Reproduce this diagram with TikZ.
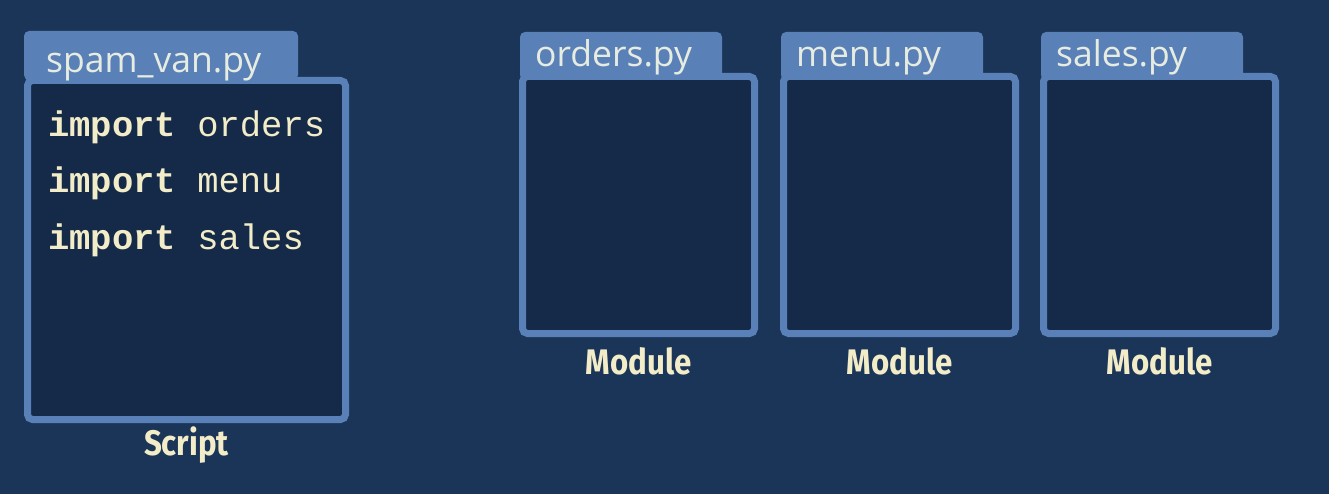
\documentclass[tikz,border=0pt]{standalone}
\usepackage{fontspec}
\newfontfamily\tabfont{Open Sans}
\newfontfamily\codefont{Liberation Mono}
\newfontfamily\capfont[FakeStretch=0.88]{Fira Sans}
\usetikzlibrary{positioning}
\definecolor{bgblue}{HTML}{1B3558}
\definecolor{framecol}{HTML}{5A80B8}
\definecolor{panecol}{HTML}{152A48}
\definecolor{cream}{HTML}{F2EDC8}
\definecolor{tabtext}{HTML}{E6ECE0}
\tikzset{
tab/.style = {fill=framecol, rounded corners=5pt},
pane/.style = {draw=framecol, fill=panecol, line width=7pt, rounded corners=5pt, inner sep=0pt},
filename/.style = {anchor=base west, inner sep=0pt, text=tabtext, font=\tabfont\fontsize{35.5}{35.5}\selectfont},
codeline/.style = {anchor=base west, inner sep=0pt, text=cream, font=\codefont\fontsize{35.5}{35.5}\selectfont},
kind/.style = {inner sep=0pt, text=cream, font=\capfont\bfseries\fontsize{35.5}{35.5}\selectfont}
}
\begin{document}
\begin{tikzpicture}[x=1pt,y=-1pt]
%
\useasboundingbox (0,0) rectangle (1329,494);
\fill[bgblue] (0,0) rectangle (1329,494);
%
% script folder
\fill[tab] (24,31) rectangle (298,80);
\node[pane, minimum width=318pt, minimum height=339pt, anchor=north west] (script) at (24,77) {};
\node[filename] (scriptname) at (46,73) {spam\_van.py};
\node[kind, below=4pt of script] (scriptkind) {Script};
%
\foreach \y/\mod [count=\i] in {137/orders,193/menu,250/sales} {
\node[codeline] (imp\i) at (48,\y) {{\bfseries import} \mod};
}
%
% module folders
\foreach \file/\x [count=\i] in {orders/519,menu/780,sales/1040} {
\fill[tab] (\x+1,32) rectangle ++(202,48);
\node[pane, minimum width=232pt, minimum height=257pt, anchor=north west] (mod\i) at (\x,73) {};
\node[filename] (modname\i) at (\x+16,67) {\file.py};
\node[kind, below=10pt of mod\i] (modkind\i) {Module};
}
%
\end{tikzpicture}
\end{document}
